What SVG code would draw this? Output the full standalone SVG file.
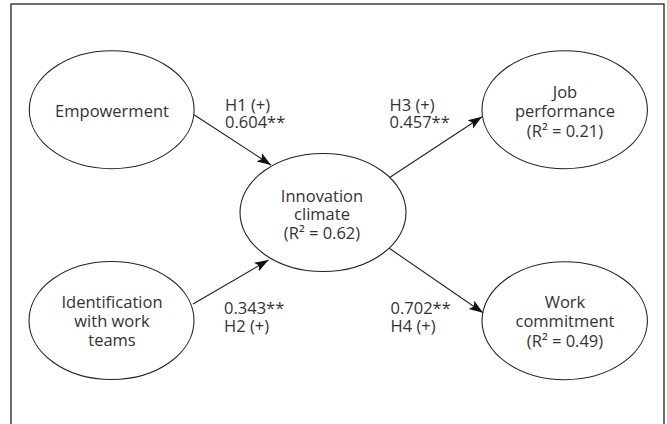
<svg xmlns="http://www.w3.org/2000/svg" width="667" height="424" viewBox="0 0 667 424">
<style>
  .node { fill: #ffffff; stroke: #222222; stroke-width: 1.1; }
  .t { font-family: "Open Sans", "Liberation Sans", sans-serif; font-size: 16.5px; fill: #333333; text-anchor: middle; }
  .lbl { font-family: "Open Sans", "Liberation Sans", sans-serif; font-size: 16.5px; fill: #333333; }
  .edge { stroke: #222222; stroke-width: 1.1; fill: none; marker-end: url(#arrow); }
</style>
<defs>
  <marker id="arrow" markerUnits="userSpaceOnUse" markerWidth="16" markerHeight="12" viewBox="0 0 16 12" refX="14" refY="6" orient="auto">
    <path d="M0,1 L14,6 L0,11 L3,6 z" fill="#111111"/>
  </marker>
</defs>
<rect x="11" y="4" width="653" height="430" fill="#ffffff" stroke="#222222" stroke-width="1.3"/>

<g id="connectors">
  <line class="edge" x1="194" y1="114.7" x2="271" y2="165"/>
  <line class="edge" x1="193" y1="304" x2="268.5" y2="260"/>
  <line class="edge" x1="390" y1="177.3" x2="482" y2="116.7"/>
  <line class="edge" x1="389.3" y1="248.3" x2="483" y2="312.7"/>
</g>

<g id="empowerment">
  <ellipse class="node" cx="111.7" cy="109.7" rx="82.4" ry="59"/>
  <text class="t" x="112" y="117">Empowerment</text>
</g>
<g id="identification">
  <ellipse class="node" cx="111.5" cy="320.5" rx="82.5" ry="59"/>
  <text class="t"><tspan x="112" y="308">Identification</tspan><tspan x="112" y="327">with work</tspan><tspan x="112" y="346">teams</tspan></text>
</g>
<g id="innovation">
  <ellipse class="node" cx="323" cy="212.5" rx="83" ry="59"/>
  <text class="t"><tspan x="322" y="201.5">Innovation</tspan><tspan x="322" y="220">climate</tspan><tspan x="322" y="239">(R² = 0.62)</tspan></text>
</g>
<g id="job">
  <ellipse class="node" cx="564.7" cy="109.7" rx="82.7" ry="59"/>
  <text class="t"><tspan x="565" y="98.3">Job</tspan><tspan x="565" y="117.3">performance</tspan><tspan x="565" y="136.5">(R² = 0.21)</tspan></text>
</g>
<g id="work">
  <ellipse class="node" cx="564.7" cy="320.7" rx="82.7" ry="59"/>
  <text class="t"><tspan x="565" y="308.3">Work</tspan><tspan x="565" y="327.3">commitment</tspan><tspan x="565" y="347">(R² = 0.49)</tspan></text>
</g>

<g id="labels">
  <text class="lbl"><tspan x="225" y="110.5">H1 (+)</tspan><tspan x="225" y="128">0.604**</tspan></text>
  <text class="lbl"><tspan x="389.5" y="110.5">H3 (+)</tspan><tspan x="389.5" y="128">0.457**</tspan></text>
  <text class="lbl"><tspan x="224" y="314">0.343**</tspan><tspan x="224" y="331.5">H2 (+)</tspan></text>
  <text class="lbl"><tspan x="390.5" y="314">0.702**</tspan><tspan x="390.5" y="331.5">H4 (+)</tspan></text>
</g>
</svg>
